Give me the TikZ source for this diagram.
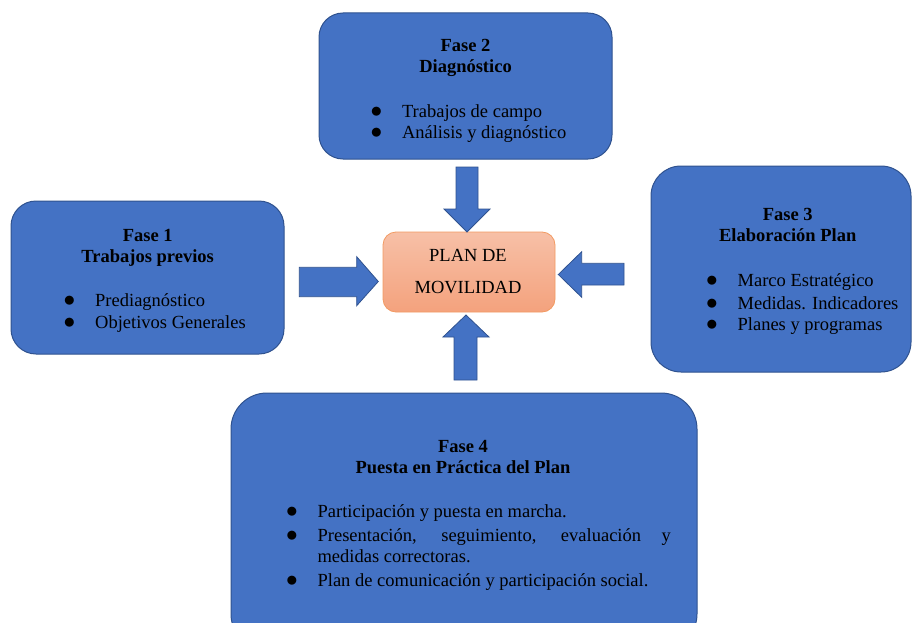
\documentclass[tikz,border=0pt]{standalone}
\usepackage{fontspec}
\setmainfont{Liberation Serif}
\definecolor{phasefill}{HTML}{4472C4}
\definecolor{phaseline}{HTML}{2F528F}
\definecolor{plantop}{HTML}{F7C0A7}
\definecolor{planbot}{HTML}{F4A27D}
\definecolor{planline}{HTML}{F29A62}
\newcommand{\bul}{\makebox[30pt][l]{\hspace{-1.5pt}\scalebox{1.35}{$\bullet$}}}
\begin{document}
\begin{tikzpicture}[x=1pt,y=-1pt,
  phase/.style={draw=phaseline, fill=phasefill, line width=1pt, inner sep=0pt},
  plan/.style={draw=planline, line width=0.8pt, top color=plantop, bottom color=planbot,
    rounded corners=13pt, inner sep=0pt, minimum width=172pt, minimum height=80pt},
  ttl/.style={anchor=base, inner sep=0pt, font=\fontsize{18.5}{20.5}\selectfont\bfseries},
  lst/.style={anchor=base west, inner sep=0pt, font=\fontsize{18.5}{21.5}\selectfont},
  ctext/.style={anchor=base, inner sep=0pt, font=\fontsize{18.5}{31.6}\selectfont},
  barrow/.style={fill=phasefill, draw=phaseline, line width=0.8pt, line join=miter}]
\useasboundingbox (0,0) rectangle (912,623);
\clip (0,0) rectangle (912,623);

% phase boxes
\node[phase, rounded corners=24pt, minimum width=293pt, minimum height=146pt] (f2) at (465.5,86) {};
\node[phase, rounded corners=25pt, minimum width=273pt, minimum height=153pt] (f1) at (147.5,277.5) {};
\node[phase, rounded corners=30pt, minimum width=260pt, minimum height=206pt] (f3) at (781,269) {};
\node[phase, rounded corners=36pt, minimum width=466pt, minimum height=257pt] (f4) at (464,521.5) {};

% central box
\node[plan] (plan) at (469,272) {};
\node[ctext] (plant) at (468,261.7) {\parbox[t]{170pt}{\centering PLAN DE\\MOVILIDAD}};

% titles
\node[ttl] (f2t) at (465.5,51.7) {\parbox[t]{280pt}{\centering Fase 2\\Diagnóstico}};
\node[ttl] (f1t) at (147.7,241.7) {\parbox[t]{260pt}{\centering Fase 1\\Trabajos previos}};
\node[ttl] (f3t) at (787.7,220.7) {\parbox[t]{240pt}{\centering Fase 3\\Elaboración Plan}};
\node[ttl] (f4t) at (463,452.7) {\parbox[t]{440pt}{\centering Fase 4\\Puesta en Práctica del Plan}};

% bullet lists
\node[lst] (f2l) at (371.8,117.3) {\parbox[t]{240pt}{\raggedright
  \bul Trabajos de campo\\
  \bul Análisis y diagnóstico}};
\node[lst] (f1l) at (65,306) {\parbox[t]{215pt}{\raggedright
  \bul Prediagnóstico\\[0.8pt]
  \bul Objetivos Generales}};
\node[lst] (f3l) at (707.4,286) {\parbox[t]{205pt}{\raggedright
  \bul Marco Estratégico\\[1.5pt]
  \bul Medidas. Indicadores\\
  \bul Planes y programas}};
\node[lst] (f4l) at (287.4,517.3) {\parbox[t]{400pt}{\raggedright
  \bul Participación y puesta en marcha.\\[2.8pt]
  \bul \makebox[353.3pt][s]{Presentación, seguimiento, evaluación y}\\[-0.5pt]
  \hspace*{30pt}medidas correctoras.\\[2.5pt]
  \bul Plan de comunicación y participación social.}};

% block arrows
\draw[barrow] (456,167) -- (478,167) -- (478,209) -- (490,209) -- (467,232) -- (444,209) -- (456,209) -- cycle;
\draw[barrow] (454,380) -- (477,380) -- (477,337) -- (489,337) -- (466,315) -- (443,337) -- (454,337) -- cycle;
\draw[barrow] (299.3,267.3) -- (356.7,267.3) -- (356.7,256.7) -- (378.3,281.5) -- (356.7,305.7) -- (356.7,296.7) -- (299.3,296.7) -- cycle;
\draw[barrow] (624,263.3) -- (581.7,263.3) -- (581.7,251.7) -- (558.3,274.5) -- (581.7,297.3) -- (581.7,285) -- (624,285) -- cycle;
\end{tikzpicture}
\end{document}
